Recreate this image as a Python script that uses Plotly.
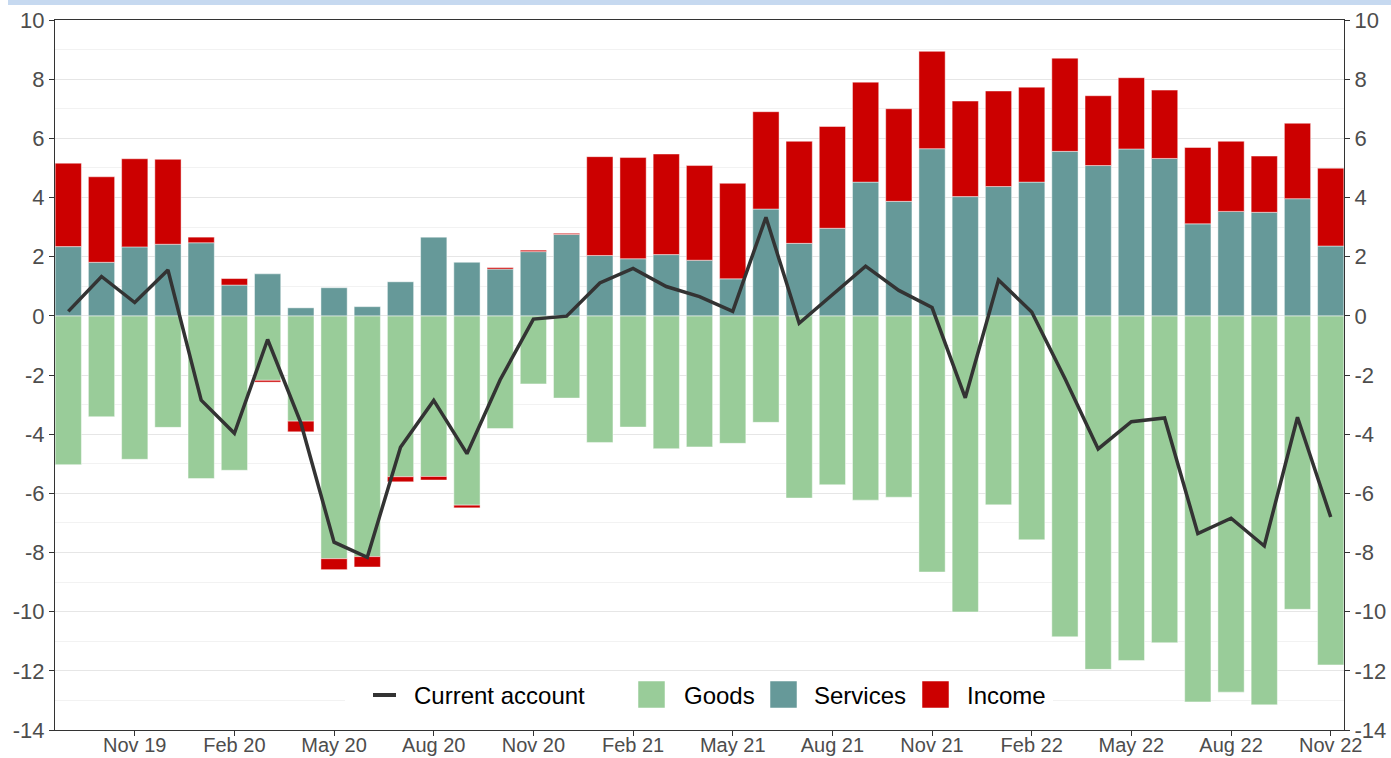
import plotly.graph_objects as go

months = ["Sep 19", "Oct 19", "Nov 19", "Dec 19",
          "Jan 20", "Feb 20", "Mar 20", "Apr 20", "May 20", "Jun 20",
          "Jul 20", "Aug 20", "Sep 20", "Oct 20", "Nov 20", "Dec 20",
          "Jan 21", "Feb 21", "Mar 21", "Apr 21", "May 21", "Jun 21",
          "Jul 21", "Aug 21", "Sep 21", "Oct 21", "Nov 21", "Dec 21",
          "Jan 22", "Feb 22", "Mar 22", "Apr 22", "May 22", "Jun 22",
          "Jul 22", "Aug 22", "Sep 22", "Oct 22", "Nov 22"]

goods = [-5.03, -3.41, -4.85, -3.77, -5.50, -5.22, -2.18, -3.56, -8.21, -8.14,
         -5.44, -5.43, -6.40, -3.81, -2.30, -2.78, -4.28, -3.76, -4.49, -4.43,
         -4.31, -3.60, -6.16, -5.71, -6.23, -6.13, -8.66, -10.01, -6.39, -7.57,
         -10.85, -11.95, -11.65, -11.05, -13.05, -12.72, -13.15, -9.92, -11.80]

services = [2.34, 1.81, 2.33, 2.42, 2.47, 1.04, 1.42, 0.27, 0.95, 0.31,
            1.15, 2.66, 1.81, 1.58, 2.17, 2.75, 2.04, 1.93, 2.07, 1.88,
            1.25, 3.61, 2.45, 2.96, 4.52, 3.87, 5.65, 4.03, 4.37, 4.52,
            5.56, 5.08, 5.64, 5.32, 3.11, 3.53, 3.50, 3.96, 2.36]

income = [2.82, 2.89, 2.98, 2.87, 0.19, 0.22, -0.06, -0.36, -0.37, -0.35,
          -0.17, -0.12, -0.09, 0.05, 0.05, 0.04, 3.34, 3.42, 3.40, 3.20,
          3.23, 3.29, 3.45, 3.44, 3.38, 3.13, 3.29, 3.23, 3.23, 3.21,
          3.15, 2.36, 2.41, 2.31, 2.58, 2.37, 1.90, 2.55, 2.63]

current_account = [0.15, 1.33, 0.45, 1.55, -2.85, -3.97, -0.80, -3.62, -7.65, -8.16,
                   -4.44, -2.86, -4.66, -2.16, -0.11, -0.01, 1.11, 1.60, 0.99, 0.65,
                   0.15, 3.33, -0.25, 0.70, 1.68, 0.86, 0.28, -2.77, 1.21, 0.13,
                   -2.12, -4.50, -3.58, -3.45, -7.36, -6.84, -7.78, -3.43, -6.80]

x_ticks = ["Nov 19", "Feb 20", "May 20", "Aug 20", "Nov 20", "Feb 21", "May 21",
           "Aug 21", "Nov 21", "Feb 22", "May 22", "Aug 22", "Nov 22"]
y_tickvals = [-14, -12, -10, -8, -6, -4, -2, 0, 2, 4, 6, 8, 10]
y_ticktext = ["-14", "-12", "-10", "-8", "-6", "-4", "-2", "0", "2", "4", "6", "8", "10"]

series_names = ["Current account", "Goods", "Services", "Income"]
colors = {"Current account": "#333333", "Goods": "#99cc99",
          "Services": "#669999", "Income": "#cc0000"}

fig = go.Figure()
for name, vals in [("Goods", goods), ("Services", services), ("Income", income)]:
    fig.add_trace(go.Bar(x=months, y=vals, name=name, showlegend=False,
                         marker=dict(color=colors[name],
                                     line=dict(color="rgba(255,255,255,0.45)", width=1))))
fig.add_trace(go.Scatter(x=months, y=current_account, name="Current account",
                         mode="lines", yaxis="y2", showlegend=False,
                         line=dict(color=colors["Current account"], width=3.5)))

# plot area geometry in pixels (for manual legend placement)
W, H = 1391, 758
L, R, T, B = 55, 1344, 20, 730
PW, PH = R - L, B - T
def px(x):
    return (x - L) / PW
def py(y):
    return (B - y) / PH

shapes = []
# legend background
shapes.append(dict(type="rect", xref="paper", yref="paper", layer="above",
                   x0=px(345), x1=px(1053), y0=py(727), y1=py(671),
                   fillcolor="white", line=dict(width=0)))
# current account line symbol
shapes.append(dict(type="line", xref="paper", yref="paper", layer="above",
                   x0=px(373), x1=px(396), y0=py(695), y1=py(695),
                   line=dict(color=colors["Current account"], width=4)))
annotations = []
sq_left = {"Goods": 638, "Services": 770, "Income": 922}
txt_left = {"Current account": 412, "Goods": 682, "Services": 812, "Income": 965}
for name in series_names:
    if name in sq_left:
        x0 = sq_left[name]
        shapes.append(dict(type="rect", xref="paper", yref="paper", layer="above",
                           x0=px(x0), x1=px(x0 + 27), y0=py(708), y1=py(681),
                           fillcolor=colors[name],
                           line=dict(color="rgba(255,255,255,0.5)", width=1)))
    annotations.append(dict(xref="paper", yref="paper", x=px(txt_left[name]), y=py(695),
                            xanchor="left", yanchor="middle", showarrow=False,
                            text=name, font=dict(size=24, color="#000000")))
# top title band (cut-off header)
shapes.append(dict(type="rect", xref="paper", yref="paper", layer="above",
                   x0=px(8), x1=px(W), y0=py(5), y1=py(-2),
                   fillcolor="#c6d9f0", line=dict(width=0)))

xtickfont = dict(family="Liberation Sans, Arial, sans-serif", size=20, color="#4d4d4d")
ytickfont = dict(family="Liberation Sans, Arial, sans-serif", size=22, color="#4d4d4d")

fig.update_layout(
    width=W, height=H, autosize=False,
    margin=dict(l=L, r=W - R, t=T, b=H - B, pad=0, autoexpand=False),
    paper_bgcolor="white", plot_bgcolor="white",
    barmode="relative", bargap=0.21,
    font=dict(family="Liberation Sans, Arial, sans-serif"),
    shapes=shapes, annotations=annotations,
    showlegend=False,
    xaxis=dict(type="category", range=[-0.4, 38.4], tickmode="array",
               tickvals=x_ticks, ticktext=x_ticks, ticks="outside", ticklen=5,
               tickcolor="#333333", showline=True, linecolor="#333333", linewidth=1,
               mirror=True, showgrid=False, tickfont=xtickfont, automargin=False,
               ticklabelstandoff=-8),
    yaxis=dict(range=[-14, 10], tickmode="array", tickvals=y_tickvals, ticktext=y_ticktext,
               ticks="outside", ticklen=5, tickcolor="#333333", showline=True,
               linecolor="#333333", linewidth=1, zeroline=False, automargin=False,
               showgrid=True, gridcolor="#e6e6e6", gridwidth=1.3,
               minor=dict(dtick=1, tick0=-14, showgrid=True, gridcolor="#f2f2f2", gridwidth=1),
               tickfont=ytickfont),
    yaxis2=dict(range=[-14, 10], overlaying="y", side="right", tickmode="array",
                tickvals=y_tickvals, ticktext=y_ticktext, ticks="outside", ticklen=5,
                tickcolor="#333333", showline=True, linecolor="#333333", linewidth=1,
                zeroline=False, showgrid=False, tickfont=ytickfont, automargin=False),
)

fig.write_html("out.html",
               config={"displayModeBar": False},
               post_script="document.body.style.margin='0';"
                           "document.body.style.overflow='hidden';")
